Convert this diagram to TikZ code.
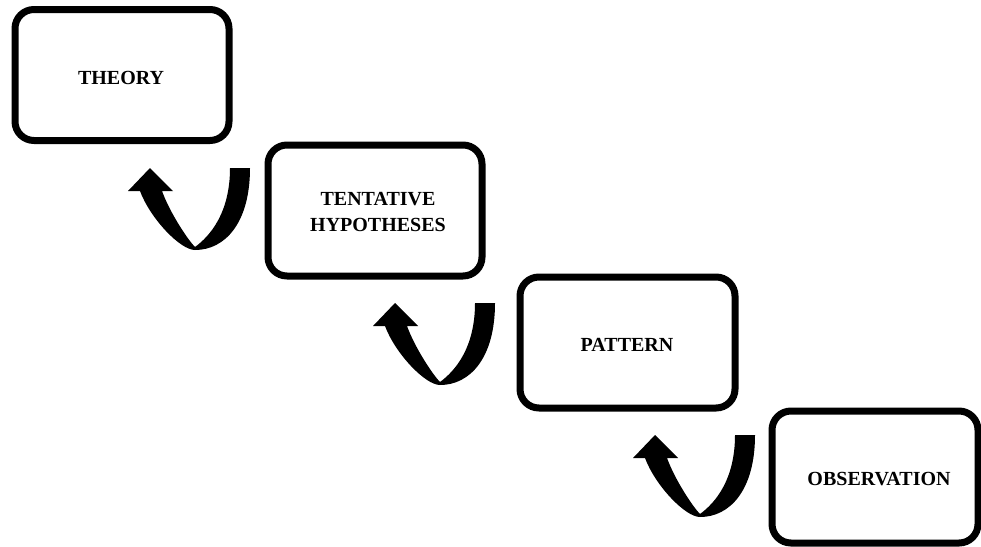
\documentclass[tikz,border=0pt]{standalone}
\usepackage{fontspec}
\setmainfont{Liberation Serif}
\begin{document}
\begin{tikzpicture}[x=1pt,y=-1pt,
  stepbox/.style={draw=black, line width=7pt, rounded corners=19pt,
    minimum width=214pt, minimum height=131pt, inner sep=0pt, outer sep=0pt,
    anchor=north west},
  steptext/.style={align=center, inner sep=0pt,
    font=\fontsize{20}{26}\selectfont\bfseries},
  uarrow/.pic={\fill[black] (0,0) .. controls (0,55) and (-25,82) .. (-55,82)
      .. controls (-70,82) and (-100,50) .. (-110,23) -- (-122,23) -- (-100,0)
      -- (-77,23) -- (-88,23) .. controls (-80,45) and (-62,72) .. (-55,79)
      .. controls (-40,68) and (-20,45) .. (-20,0) -- cycle;}]
\useasboundingbox (0,0) rectangle (981,546);
\node[stepbox] (theory) at (15,9.5) {};
\node[stepbox] (tent) at (268,145) {};
\node[stepbox, minimum width=215pt] (pattern) at (520,277) {};
\node[stepbox, minimum width=206pt, minimum height=132pt] (obs) at (772,411) {};
\node[steptext] (theorytext) at (121,77.5) {THEORY};
\node[steptext] (tenttext) at (378,211.5) {TENTATIVE\\HYPOTHESES};
\node[steptext] (patterntext) at (627,345) {PATTERN};
\node[steptext] (obstext) at (879,479) {OBSERVATION};
\pic at (250,168) {uarrow};
\pic at (495,303) {uarrow};
\pic at (755,435) {uarrow};
\end{tikzpicture}
\end{document}
